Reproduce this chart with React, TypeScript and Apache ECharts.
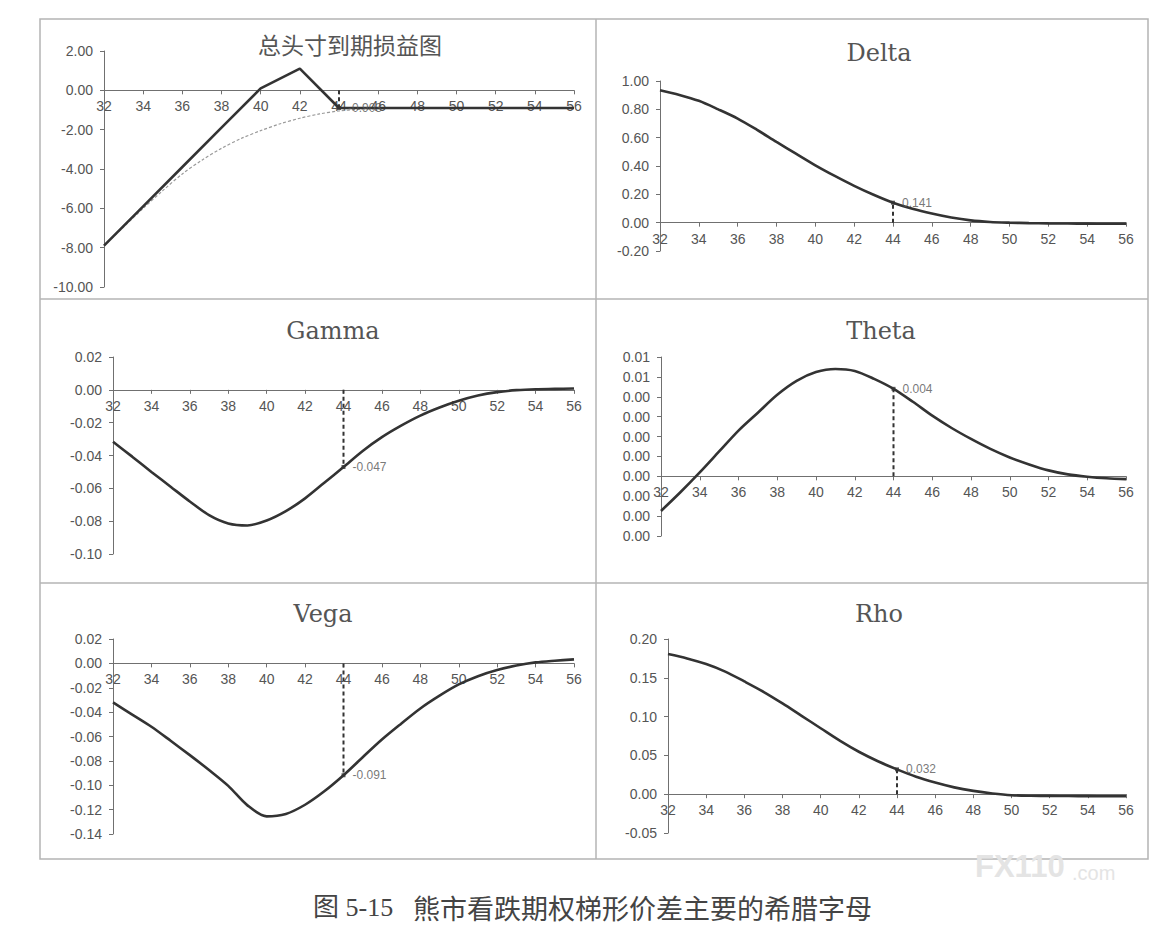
import React, { useEffect, useRef } from "react";
import * as echarts from "echarts";

// ---------- data ----------
const strikes = [32, 34, 36, 38, 40, 42, 44, 46, 48, 50, 52, 54, 56];
const payoffExpiry = [-7.9, -5.9, -3.9, -1.9, 0.1, 1.1, -0.9, -0.9, -0.9, -0.9, -0.9, -0.9, -0.9];
const payoffNowX = [32, 33, 34, 35, 36, 37, 38, 39, 40, 41, 42, 43, 44, 45, 46, 48, 50, 52, 54, 56];
const payoffNow = [-7.9, -6.95, -6.0, -5.1, -4.25, -3.55, -2.95, -2.45, -2.05, -1.7, -1.42, -1.2, -1.05, -0.97, -0.93, -0.91, -0.9, -0.9, -0.9, -0.9];

// greeks read at every unit price from 32 to 56
const prices = [32, 33, 34, 35, 36, 37, 38, 39, 40, 41, 42, 43, 44, 45, 46, 47, 48, 49, 50, 51, 52, 53, 54, 55, 56];
const delta = [0.935, 0.902, 0.86, 0.8, 0.735, 0.655, 0.57, 0.487, 0.405, 0.33, 0.26, 0.197, 0.141, 0.098, 0.064, 0.036, 0.016, 0.005, 0.0, -0.003, -0.005, -0.006, -0.007, -0.008, -0.008];
const gamma = [-0.0316, -0.0407, -0.05, -0.059, -0.068, -0.0763, -0.0814, -0.0826, -0.0796, -0.0739, -0.0661, -0.0566, -0.047, -0.0372, -0.0288, -0.0218, -0.0157, -0.0108, -0.0067, -0.0035, -0.0014, -0.0002, 0.0004, 0.0006, 0.0008];
const theta = [-0.00174, -0.0008, 0.0002, 0.00125, 0.0023, 0.0032, 0.0041, 0.0048, 0.00524, 0.0054, 0.0053, 0.0049, 0.0044, 0.00375, 0.00305, 0.00243, 0.00188, 0.00138, 0.00095, 0.0006, 0.0003, 0.0001, -0.00002, -0.0001, -0.00014];
const vega = [-0.032, -0.042, -0.052, -0.0635, -0.0753, -0.0875, -0.1005, -0.1165, -0.1255, -0.1235, -0.116, -0.105, -0.0918, -0.077, -0.0625, -0.0495, -0.037, -0.0265, -0.0173, -0.0105, -0.0055, -0.0018, 0.0008, 0.0022, 0.0033];
const rho = [0.1806, 0.175, 0.1677, 0.158, 0.1453, 0.132, 0.117, 0.101, 0.085, 0.069, 0.0547, 0.0425, 0.032, 0.0225, 0.015, 0.0088, 0.0043, 0.001, -0.0013, -0.002, -0.0022, -0.0024, -0.0025, -0.0026, -0.0026];

const markStrike = 44;
const markValues = [-0.9, 0.141, -0.047, 0.0044, -0.0918, 0.032];
const markLabels = ["-0.903", "0.141", "-0.047", "0.004", "-0.091", "0.032"];

const titles = ["总头寸到期损益图", "Delta", "Gamma", "Theta", "Vega", "Rho"];
// y axis [min, max, interval]
const payoffAxis = [-10, 2, 2];
const deltaAxis = [-0.2, 1.0, 0.2];
const gammaAxis = [-0.1, 0.02, 0.02];
const thetaAxis = [-0.003, 0.006, 0.001];
const vegaAxis = [-0.14, 0.02, 0.02];
const rhoAxis = [-0.05, 0.2, 0.05];
const xAxisRange = [32, 56, 2];

const caption = "熊市看跌期权梯形价差主要的希腊字母";
const captionNo = "图 5-15";

// ---------- layout ----------
const grids = [
  { left: 104, top: 51, width: 470, height: 236 },
  { left: 660, top: 81, width: 466, height: 170 },
  { left: 113, top: 357, width: 461, height: 197 },
  { left: 661, top: 357, width: 465, height: 179 },
  { left: 113, top: 639, width: 461, height: 195 },
  { left: 668, top: 639, width: 458, height: 194 },
];
const titlePos = [
  [350, 44],
  [879, 53],
  [333, 331],
  [881, 331],
  [323, 614],
  [879, 614],
];

const LABEL_FONT = '"Liberation Sans", Arial, sans-serif';
const CURVE = "#333333";

function fmt2(v: number) {
  const r = Math.round(v * 100 + (v >= 0 ? 1e-7 : -1e-7)) / 100;
  return (Math.abs(r) < 1e-9 ? 0 : r).toFixed(2);
}

export default function App() {
  const ref = useRef<HTMLDivElement>(null);

  useEffect(() => {
    if (!ref.current) return;
    const chart = echarts.init(ref.current, undefined, { renderer: "svg" });

    const yAxesData = [payoffAxis, deltaAxis, gammaAxis, thetaAxis, vegaAxis, rhoAxis];

    const xAxis = grids.map((g, i) => {
      const [mn, mx] = yAxesData[i];
      const zeroFromBottom = (g.height * (0 - mn)) / (mx - mn);
      return {
        type: "value",
        gridIndex: i,
        position: "bottom",
        offset: -zeroFromBottom,
        min: xAxisRange[0],
        max: xAxisRange[1],
        interval: xAxisRange[2],
        axisLine: { show: true, onZero: false, lineStyle: { color: "#707070", width: 1 } },
        axisTick: { show: true, length: 4, lineStyle: { color: "#707070" } },
        axisLabel: {
          show: true,
          margin: 9,
          fontSize: 14,
          color: "#555",
          fontFamily: LABEL_FONT,
        },
        splitLine: { show: false },
      };
    });

    const yAxis = grids.map((_, i) => ({
      type: "value",
      gridIndex: i,
      min: yAxesData[i][0],
      max: yAxesData[i][1],
      interval: yAxesData[i][2],
      axisLine: { show: true, onZero: false, lineStyle: { color: "#707070", width: 1 } },
      axisTick: { show: true, length: 4, lineStyle: { color: "#707070" } },
      axisLabel: {
        show: true,
        margin: 11,
        fontSize: 14,
        color: "#555",
        fontFamily: LABEL_FONT,
        formatter: (v: number) => fmt2(v),
      },
      splitLine: { show: false },
    }));

    const series: any[] = [];
    series.push({
      type: "line",
      xAxisIndex: 0,
      yAxisIndex: 0,
      data: payoffNowX.map((x, k) => [x, payoffNow[k]]),
      smooth: 0.3,
      symbol: "none",
      lineStyle: { color: "#9a9a9a", width: 1.2, type: [3, 2] },
      z: 2,
    });
    series.push({
      type: "line",
      xAxisIndex: 0,
      yAxisIndex: 0,
      data: strikes.map((x, k) => [x, payoffExpiry[k]]),
      smooth: false,
      symbol: "none",
      lineStyle: { color: CURVE, width: 2.6 },
      z: 3,
    });
    const greeks = [delta, gamma, theta, vega, rho];
    greeks.forEach((arr, j) => {
      const i = j + 1;
      series.push({
        type: "line",
        xAxisIndex: i,
        yAxisIndex: i,
        data: prices.map((x, k) => [x, arr[k]]),
        smooth: 0.3,
        symbol: "none",
        lineStyle: { color: CURVE, width: 2.6 },
        z: 3,
      });
    });
    markValues.forEach((mv, i) => {
      series.push({
        type: "line",
        xAxisIndex: i,
        yAxisIndex: i,
        data: [
          [markStrike, 0],
          [markStrike, mv],
        ],
        symbol: "none",
        lineStyle: { color: "#333", width: 2, type: [4, 3] },
        z: 4,
      });
      series.push({
        type: "scatter",
        xAxisIndex: i,
        yAxisIndex: i,
        data: [[markStrike, mv]],
        symbol: "rect",
        symbolSize: 4,
        itemStyle: { color: "#333" },
        label: {
          show: true,
          position: "right",
          distance: 7,
          formatter: markLabels[i],
          fontSize: 12,
          color: "#555",
          fontFamily: LABEL_FONT,
        },
        z: 5,
      });
    });

    const border = "#b4b4b4";
    const graphic: any[] = [
      { type: "rect", shape: { x: 40, y: 19, width: 1108, height: 840 }, style: { fill: "none", stroke: border, lineWidth: 1.5 }, z: 0 },
      { type: "line", shape: { x1: 596, y1: 19, x2: 596, y2: 859 }, style: { stroke: border, lineWidth: 1.5 }, z: 0 },
      { type: "line", shape: { x1: 40, y1: 299, x2: 1148, y2: 299 }, style: { stroke: border, lineWidth: 1.5 }, z: 0 },
      { type: "line", shape: { x1: 40, y1: 583, x2: 1148, y2: 583 }, style: { stroke: border, lineWidth: 1.5 }, z: 0 },
    ];
    titles.forEach((t, i) => {
      graphic.push({
        type: "text",
        x: titlePos[i][0],
        y: titlePos[i][1],
        z: 10,
        style: {
          text: t,
          align: "center",
          verticalAlign: "middle",
          fill: "#555",
          fontSize: i === 0 ? 23 : 24,
          fontFamily: i === 0 ? '"Noto Sans CJK SC", sans-serif' : '"DejaVu Serif", serif',
        },
      });
    });
    graphic.push({
      type: "text",
      x: 313,
      y: 907,
      z: 10,
      style: {
        text: captionNo,
        align: "left",
        verticalAlign: "middle",
        fill: "#444",
        fontSize: 26,
        fontFamily: '"Liberation Serif", "Noto Sans CJK SC", serif',
      },
    });
    graphic.push({
      type: "text",
      x: 413,
      y: 907,
      z: 10,
      style: {
        text: caption,
        align: "left",
        verticalAlign: "middle",
        fill: "#444",
        fontSize: 27,
        fontFamily: '"Noto Sans CJK SC", sans-serif',
      },
    });
    graphic.push({
      type: "text",
      x: 975,
      y: 866,
      z: 20,
      style: {
        text: "FX110",
        align: "left",
        verticalAlign: "middle",
        fill: "#e4e4e4",
        fontSize: 31,
        fontWeight: "bold",
        fontFamily: '"Liberation Sans", sans-serif',
      },
    });
    graphic.push({
      type: "text",
      x: 1072,
      y: 873,
      z: 20,
      style: {
        text: ".com",
        align: "left",
        verticalAlign: "middle",
        fill: "#e4e4e4",
        fontSize: 20,
        fontFamily: '"Liberation Sans", sans-serif',
      },
    });

    chart.setOption({
      animation: false,
      backgroundColor: "#fff",
      grid: grids.map((g) => ({ ...g, containLabel: false })),
      xAxis,
      yAxis,
      series,
      graphic,
    });

    return () => chart.dispose();
  }, []);

  return (
    <div
      ref={ref}
      style={{ position: "fixed", left: 0, top: 0, width: 1171, height: 934, background: "#fff" }}
    />
  );
}
